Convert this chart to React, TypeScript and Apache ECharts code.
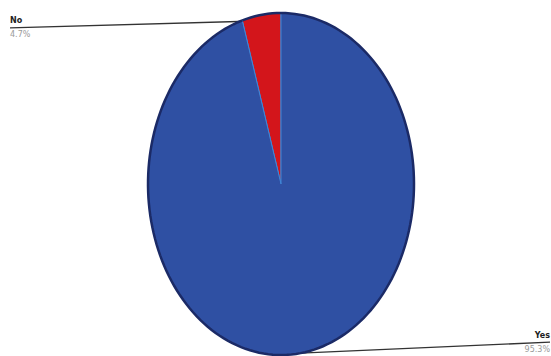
import React, { useEffect, useRef } from "react";
import * as echarts from "echarts";

const names = ["No", "Yes"];
const values = [4.7, 95.3];
const colors = ["#d3151b", "#2f50a3"];

export default function App() {
  const ref = useRef<HTMLDivElement>(null);
  useEffect(() => {
    document.body.style.margin = "0";
    const chart = echarts.init(ref.current!, null, { renderer: "svg" });
    const total = values.reduce((a, b) => a + b, 0);
    const starts: number[] = [];
    let acc = 0;
    values.forEach((v) => {
      starts.push(acc);
      acc += v;
    });
    const renderItem = (params: any, api: any) => {
      const i = params.dataIndex;
      const w = api.getWidth();
      const cx = 281, cy = 184, rx = 133, ry = 171;
      const a0 = (starts[i] / total) * Math.PI * 2;
      const a1 = ((starts[i] + api.value(0)) / total) * Math.PI * 2;
      const pt = (t: number) => [cx - rx * Math.sin(t), cy - ry * Math.cos(t)];
      const n = Math.max(4, Math.ceil(((a1 - a0) * 180) / Math.PI / 2));
      const arc: number[][] = [];
      for (let k = 0; k <= n; k++) arc.push(pt(a0 + ((a1 - a0) * k) / n));
      const mid = pt((a0 + a1) / 2);
      const left = mid[0] < cx;
      const top = mid[1] < cy;
      const ly = mid[1] + (top ? 13 : -11);
      const ax = left ? 10 : w - 1;
      const pct = ((api.value(0) / total) * 100).toFixed(1) + "%";
      return {
        type: "group",
        children: [
          {
            type: "line",
            z2: 1,
            shape: { x1: ax, y1: ly, x2: mid[0], y2: mid[1] + (top ? 6 : 0) },
            style: { stroke: "#333", lineWidth: 1.3 },
          },
          {
            type: "polygon",
            z2: 10,
            shape: { points: [[cx, cy], ...arc] },
            style: { fill: colors[i], stroke: "#3f86d6", lineWidth: 1 },
          },
          {
            type: "polyline",
            z2: 11,
            shape: { points: arc },
            style: { stroke: "#1b2a66", lineWidth: 2.5, fill: null },
          },
          {
            type: "text",
            z2: 12,
            style: {
              x: ax,
              y: ly - 3,
              text: names[i],
              fontSize: 8,
              fontWeight: "bold",
              fontFamily: "DejaVu Sans",
              fill: "#222",
              align: left ? "left" : "right",
              verticalAlign: "bottom",
            },
          },
          {
            type: "text",
            z2: 12,
            style: {
              x: ax,
              y: ly + 3,
              text: pct,
              fontSize: 8,
              fontFamily: "DejaVu Sans",
              fill: "#9a9a9a",
              align: left ? "left" : "right",
              verticalAlign: "top",
            },
          },
        ],
      };
    };
    chart.setOption({
      animation: false,
      backgroundColor: "#ffffff",
      series: [
        {
          type: "custom",
          coordinateSystem: "none",
          renderItem,
          data: values.map((v, i) => ({ name: names[i], value: [v] })),
        },
      ],
    });
    return () => chart.dispose();
  }, []);
  return <div ref={ref} style={{ width: 551, height: 356 }} />;
}
